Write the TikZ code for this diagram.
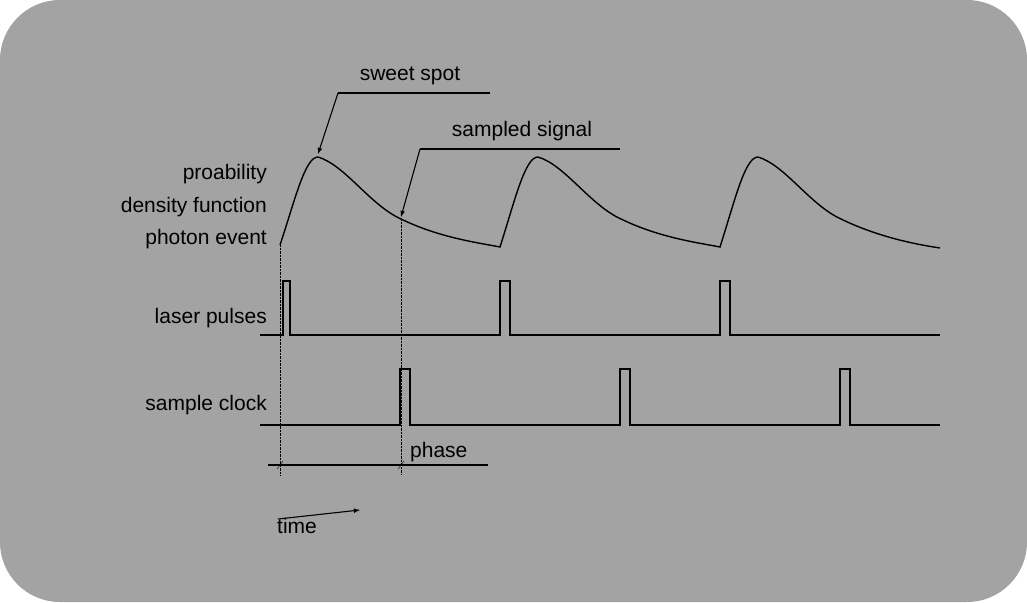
\documentclass[tikz,border=0pt]{standalone}
\usepackage{fontspec}
\setmainfont{Liberation Sans}
\usetikzlibrary{positioning}
\usetikzlibrary{calc}
\tikzset{>=latex}
\tikzset{label/.style={font=\fontsize{21}{24}\selectfont, inner sep=0pt}}
\tikzset{rlabel/.style={label, anchor=east}}
\tikzset{signal/.style={line width=1.4pt, line join=miter}}
\tikzset{guide/.style={densely dotted, thin}}
\tikzset{pointer/.style={line width=1.1pt}}

\begin{document}
\begin{tikzpicture}[x=1pt,y=-1pt]

    % Background
    \useasboundingbox (0,0) rectangle (1027,602);
    \fill [fill={rgb,255:red,163;green,163;blue,163}, rounded corners=60pt] (0,0) rectangle (1027,602);

    % Labels
    \node [rlabel] (pdf1) at (267,174) {proability};
    \node [rlabel] (pdf2) at (267,207) {density function};
    \node [rlabel] (pdf3) at (267,239) {photon event};
    \node [rlabel] (laser) at (267,318) {laser pulses};
    \node [rlabel] (clock) at (267,405) {sample clock};

    % Probability density
    \coordinate (peak) at (318,157);
    \coordinate (sample) at (401,219);
    \draw [signal] (280,245) .. controls (295,200) and (305,157) .. (peak)
        .. controls (345,165) and (370,205) .. (sample)
        .. controls (440,238) and (480,243) .. (500,247)
        .. controls (515,200) and (525,157) .. (538,157)
        .. controls (565,165) and (590,205) .. (621,219)
        .. controls (660,238) and (700,243) .. (720,247)
        .. controls (735,200) and (745,157) .. (758,157)
        .. controls (785,165) and (810,205) .. (841,219)
        .. controls (880,238) and (920,245) .. (940,248);

    % Laser pulses
    \draw [signal] (260,335) -- (283,335) -- (283,281) -- (290,281) -- (290,335)
        -- (500,335) -- (500,281) -- (510,281) -- (510,335)
        -- (720,335) -- (720,281) -- (730,281) -- (730,335) -- (940,335);

    % Sample clock
    \draw [signal] (260,425) -- (400,425) -- (400,369) -- (410,369) -- (410,425)
        -- (620,425) -- (620,369) -- (630,369) -- (630,425)
        -- (840,425) -- (840,369) -- (850,369) -- (850,425) -- (940,425);

    % Guides
    \draw [guide] (280,245) -- (280,475);
    \draw [guide] (sample) -- (401,475);

    % Phase
    \coordinate (phase-a) at (280,465);
    \coordinate (phase-b) at (401,465);
    \draw [pointer] (268,465) -- (488,465);
    \draw [thin] ($(phase-a)+(-3,4)$) -- ($(phase-a)+(3,-4)$);
    \draw [thin] ($(phase-b)+(-3,4)$) -- ($(phase-b)+(3,-4)$);
    \node [label, anchor=west] (phase) at (410,452) {phase};

    % Time
    \coordinate (time-a) at (278,519);
    \coordinate (time-b) at (360,510);
    \draw [->, pointer] (time-a) -- (time-b);
    \node [label, anchor=west] (time) at (277,526) {time};

    % Sweet spot
    \coordinate (sweet-a) at (338,93);
    \draw [pointer] (490,93) -- (sweet-a);
    \draw [->, pointer] (sweet-a) -- ($(peak)+(0,-3)$);
    \node [label] (sweet) at (410,76) {sweet spot};

    % Sampled signal
    \coordinate (sampled-a) at (420,149);
    \draw [pointer] (620,149) -- (sampled-a);
    \draw [->, pointer] (sampled-a) -- ($(sample)+(0,-2)$);
    \node [label] (sampled) at (522,131) {sampled signal};

\end{tikzpicture}
\end{document}
